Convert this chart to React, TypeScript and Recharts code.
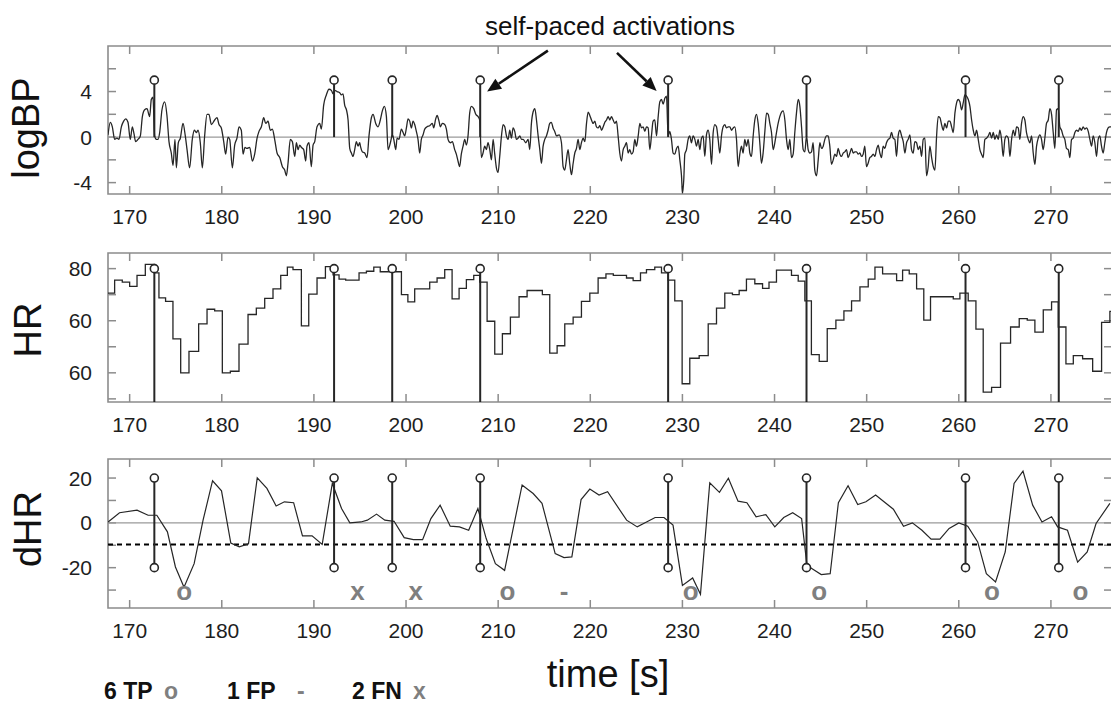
import React from 'react'
import { ComposedChart, Line, XAxis, YAxis, ReferenceLine, ReferenceDot, ReferenceArea, Scatter } from 'recharts'

const FONT = '"Liberation Sans", Arial, Helvetica, sans-serif'
const CHART_WIDTH = 1116
const AXIS_WIDTH = 108
const RIGHT_GAP = 4
const PLOT_WIDTH = CHART_WIDTH - AXIS_WIDTH - RIGHT_GAP
const TICK_PX = 8
const BOX = '#8c8c8c'
const INK = '#262626'

const TIME_DOMAIN: [number, number] = [167.65, 276.63]
const TIME_TICKS = [170, 180, 190, 200, 210, 220, 230, 240, 250, 260, 270]

// self-paced activations (s)
const ACTIVATIONS = [172.68, 192.19, 198.5, 208.05, 228.45, 243.47, 260.73, 270.85]

// logBP
const BP_TIME = [
  167.65, 167.9, 168.12, 168.37, 168.62, 168.84, 169.1, 169.35, 169.57, 169.82, 170.07, 170.29, 170.47, 170.65, 170.9,
  171.16, 171.38, 171.63, 171.88, 172.17, 172.35, 172.53, 172.71, 172.9, 173.08, 173.26, 173.51, 173.8, 174.05, 174.27,
  174.52, 174.71, 174.92, 175.07, 175.28, 175.5, 175.79, 176.04, 176.23, 176.51, 176.8, 177.02, 177.24, 177.42, 177.67,
  177.89, 178.14, 178.4, 178.61, 178.87, 179.23, 179.48, 179.7, 179.95, 180.21, 180.42, 180.68, 180.86, 181.15, 181.4,
  181.65, 181.87, 182.12, 182.31, 182.52, 182.74, 183.03, 183.32, 183.57, 183.83, 184.04, 184.3, 184.55, 184.77, 185.02,
  185.27, 185.49, 185.74, 186.0, 186.29, 186.58, 186.83, 187.01, 187.19, 187.44, 187.66, 187.92, 188.1, 188.28, 188.46,
  188.64, 188.89, 189.11, 189.25, 189.47, 189.72, 189.91, 190.09, 190.34, 190.63, 190.81, 191.06, 191.35, 191.64, 191.9,
  192.08, 192.26, 192.51, 192.8, 192.98, 193.16, 193.34, 193.53, 193.71, 193.89, 194.07, 194.25, 194.43, 194.61, 194.79,
  194.97, 195.05, 195.26, 195.51, 195.77, 195.98, 196.24, 196.42, 196.71, 196.96, 197.21, 197.43, 197.65, 197.87, 198.05,
  198.3, 198.52, 198.67, 198.88, 199.03, 199.24, 199.49, 199.68, 199.86, 200.04, 200.22, 200.4, 200.58, 200.76, 200.94,
  201.12, 201.3, 201.48, 201.66, 201.85, 202.03, 202.28, 202.57, 202.86, 203.0, 203.22, 203.37, 203.58, 203.73, 203.94,
  204.2, 204.38, 204.56, 204.81, 205.03, 205.28, 205.46, 205.64, 205.82, 206.0, 206.19, 206.37, 206.55, 206.73, 206.91,
  207.09, 207.35, 207.57, 207.82, 208.0, 208.18, 208.36, 208.54, 208.72, 208.9, 209.09, 209.27, 209.45, 209.63, 209.81,
  209.99, 210.17, 210.36, 210.54, 210.72, 210.9, 211.08, 211.26, 211.44, 211.62, 211.8, 211.98, 212.16, 212.35, 212.53,
  212.71, 213.0, 213.25, 213.43, 213.61, 213.79, 213.98, 214.16, 214.34, 214.52, 214.7, 214.88, 215.06, 215.24, 215.42,
  215.6, 215.78, 215.96, 216.14, 216.33, 216.62, 216.87, 217.05, 217.23, 217.41, 217.59, 217.78, 217.96, 218.14, 218.32,
  218.5, 218.68, 218.86, 219.04, 219.22, 219.41, 219.59, 219.77, 219.95, 220.13, 220.31, 220.49, 220.67, 220.85, 221.04,
  221.22, 221.4, 221.58, 221.76, 221.94, 222.12, 222.3, 222.48, 222.66, 222.84, 223.02, 223.2, 223.38, 223.57, 223.75,
  223.93, 224.11, 224.29, 224.47, 224.65, 224.83, 225.01, 225.2, 225.38, 225.56, 225.74, 225.92, 226.1, 226.28, 226.46,
  226.64, 226.82, 227.0, 227.19, 227.37, 227.55, 227.73, 227.91, 228.09, 228.27, 228.45, 228.63, 228.81, 228.99, 229.17,
  229.36, 229.54, 229.72, 229.9, 230.01, 230.15, 230.26, 230.44, 230.62, 230.8, 230.98, 231.16, 231.35, 231.53, 231.71,
  231.89, 232.07, 232.25, 232.43, 232.61, 232.79, 232.97, 233.16, 233.34, 233.52, 233.7, 233.88, 234.06, 234.24, 234.42,
  234.6, 234.78, 234.97, 235.15, 235.33, 235.51, 235.69, 235.87, 236.05, 236.23, 236.41, 236.59, 236.77, 236.95, 237.14,
  237.32, 237.5, 237.68, 237.86, 238.04, 238.22, 238.4, 238.58, 238.76, 238.95, 239.13, 239.31, 239.49, 239.67, 239.85,
  240.03, 240.21, 240.39, 240.57, 240.76, 240.94, 241.12, 241.3, 241.48, 241.66, 241.84, 242.02, 242.2, 242.38, 242.57,
  242.75, 242.93, 243.11, 243.29, 243.47, 243.65, 243.83, 244.01, 244.19, 244.37, 244.56, 244.74, 244.92, 245.1, 245.28,
  245.46, 245.64, 245.82, 246.0, 246.18, 246.37, 246.55, 246.73, 246.91, 247.09, 247.27, 247.45, 247.63, 247.81, 247.99,
  248.18, 248.36, 248.54, 248.72, 248.9, 249.08, 249.26, 249.44, 249.62, 249.8, 249.98, 250.16, 250.34, 250.52, 250.71,
  250.89, 251.07, 251.25, 251.43, 251.61, 251.79, 251.97, 252.15, 252.34, 252.52, 252.7, 252.88, 253.06, 253.24, 253.42,
  253.6, 253.79, 253.97, 254.15, 254.33, 254.51, 254.69, 254.87, 255.05, 255.23, 255.42, 255.6, 255.78, 255.96, 256.14,
  256.32, 256.5, 256.68, 256.86, 257.05, 257.23, 257.41, 257.59, 257.77, 257.95, 258.13, 258.31, 258.49, 258.67, 258.86,
  259.04, 259.22, 259.4, 259.58, 259.76, 259.94, 260.12, 260.3, 260.48, 260.66, 260.84, 261.03, 261.21, 261.39, 261.57,
  261.75, 261.93, 262.11, 262.29, 262.47, 262.65, 262.83, 263.01, 263.2, 263.38, 263.56, 263.74, 263.92, 264.1, 264.28,
  264.46, 264.64, 264.82, 265.0, 265.18, 265.37, 265.55, 265.73, 265.91, 266.09, 266.27, 266.45, 266.63, 266.81, 266.99,
  267.17, 267.35, 267.54, 267.72, 267.9, 268.08, 268.26, 268.44, 268.62, 268.8, 268.98, 269.16, 269.34, 269.52, 269.71,
  269.89, 270.07, 270.25, 270.43, 270.61, 270.79, 270.97, 271.15, 271.33, 271.51, 271.69, 271.88, 272.06, 272.24, 272.42,
  272.6, 272.78, 272.96, 273.14, 273.32, 273.5, 273.68, 273.87, 274.05, 274.23, 274.41, 274.59, 274.77, 274.95, 275.13,
  275.31, 275.49, 275.67, 275.85, 276.03, 276.21, 276.39, 276.6,
]
const BP_VALUE = [
  0.2, 1.3, 0.9, -0.2, -0.1, -0.2, 0.9, 1.4, 1.6, 1.3, -0.2, 0.9, 0.3, -0.4, -0.2,
  0.1, 1.8, 2.4, 2.5, 1.8, 3.3, 3.5, 0.1, -0.2, -0.2, 0.4, 2.4, 3.1, 1.9, -0.4,
  -1.4, -2.5, -0.2, -2.7, -0.5, -0.1, 1.2, 0.1, -1.1, -2.7, -0.2, 0.6, 0.4, 0.6, -0.5,
  -2.7, 0.1, 2.0, 2.0, 1.1, 1.5, 1.7, 1.1, 0.8, -0.4, -1.5, 0.0, -0.2, -2.7, -0.7,
  -0.1, 0.9, 0.6, -1.5, -0.9, -1.0, -0.9, -2.1, -1.5, -0.1, 0.5, 0.9, 1.7, 1.2, 1.4,
  0.6, 0.7, -0.2, -1.4, -1.8, -2.6, -2.9, -3.4, -2.3, -0.2, -0.4, -1.7, -0.5, -1.1, -0.7,
  -0.9, -1.1, -2.1, -0.8, -0.5, -2.6, -0.7, -0.4, 0.9, 1.2, 0.7, 2.8, 3.7, 4.2, 4.1,
  3.8, 4.1, 4.0, 3.9, 3.7, 3.8, 2.8, 2.4, 1.5, -1.0, -1.4, -1.7, -1.1, -0.4, -0.8,
  -0.5, -0.8, -1.3, -1.4, -1.8, 0.1, 1.7, 2.0, 1.2, 0.9, 1.5, 2.3, 2.7, 1.8, -1.1,
  -0.5, 0.2, -0.2, -1.1, -0.1, -0.2, 0.7, 0.4, 0.1, 0.8, 1.6, 1.4, 0.8, 1.4, 1.1,
  0.5, -0.2, -1.4, -0.2, 0.2, 0.7, 0.9, 1.0, 1.2, 0.8, 1.6, 1.9, 1.4, 0.9, 1.2,
  1.1, 0.7, -0.2, -0.5, -0.4, -1.1, -1.5, -2.1, -2.6, -1.5, -0.8, -0.2, -0.7, 0.1, 2.1,
  2.7, 2.5, 2.0, 1.8, 1.5, -1.8, -1.4, -0.8, -1.1, -0.5, -1.1, -2.0, -0.2, -1.5, -2.7,
  -3.1, -1.7, 0.1, 1.1, 0.9, 0.1, -0.2, 0.6, -0.1, 0.8, 0.5, -0.2, -0.1, 0.1, -0.2,
  -0.2, -0.5, -0.2, -1.1, 1.2, 2.2, 2.5, 1.5, 0.1, -1.1, -2.3, -0.8, -0.2, 0.1, 0.6,
  1.2, 1.3, 0.8, 0.5, 0.1, 0.2, -0.5, -2.6, -2.9, -2.0, -1.1, -2.4, -3.3, -2.3, -1.4,
  -1.0, -0.2, -1.1, -0.5, -0.1, -0.4, 1.2, 2.2, 1.9, 1.5, 1.2, 1.4, 0.9, 0.8, 1.0,
  0.6, 0.9, 1.3, 1.5, 1.8, 1.5, 1.8, 1.5, 1.2, 1.4, 0.1, -1.4, -2.1, -1.1, -0.8,
  -0.5, -1.4, -1.1, -1.5, -1.3, -0.2, -0.8, 0.1, 1.2, 0.8, 0.9, 0.5, 0.9, 0.8, -1.1,
  0.1, 1.4, 1.5, 0.1, 1.8, 3.1, 3.3, 2.9, 3.4, 3.6, 0.1, 0.5, -0.2, -1.4, -1.5,
  -1.0, -0.8, -2.0, -3.4, -4.9, -3.7, -1.5, -1.1, -0.2, 0.1, -0.5, 0.1, -0.2, -0.8, -0.2,
  -1.1, -0.1, 0.1, -1.7, 0.2, 0.6, -0.2, -2.4, 0.4, 1.1, 0.9, -0.2, -1.4, 0.1, 0.9,
  1.1, 0.8, 0.9, 0.9, 0.6, 0.8, 0.9, -0.2, -2.6, -1.5, -0.8, -1.4, -0.2, -0.8, -0.2,
  -1.4, -1.7, 0.1, 1.5, 2.0, 1.2, -0.5, -2.3, -1.4, 0.5, 2.1, 2.0, 1.2, 0.4, -1.1,
  -0.5, 0.4, 1.2, 1.8, 2.2, 2.3, 1.5, -0.2, -1.1, -0.2, -1.8, -1.5, 0.4, 2.1, 3.3,
  2.7, 0.9, -1.1, -1.3, 0.1, -1.1, -1.4, -1.3, -0.5, -2.9, -3.4, -2.0, -0.5, -1.0, -0.8,
  -0.2, 0.1, 0.1, -0.8, -2.4, -2.0, -1.5, -1.7, -1.0, -1.5, -1.7, -1.4, -1.3, -1.1, -1.8,
  -1.4, -1.0, -1.4, -1.3, -1.3, -1.5, -1.4, -1.7, -1.5, -0.8, -2.6, -2.3, -1.8, -1.7, -1.5,
  -1.7, -1.1, -0.7, -1.4, -1.8, -0.8, -1.0, -0.5, -0.2, -0.1, 0.4, -0.1, -0.2, -1.7, 0.1,
  0.6, 0.1, -0.4, -1.4, -0.5, -0.2, 0.2, -1.1, -1.4, -0.4, -0.5, -1.1, -0.8, -1.7, -0.2,
  -0.1, -3.4, -2.6, -0.8, -1.8, -2.6, -2.9, 0.1, 1.8, 1.7, 1.1, 0.6, 1.2, 0.8, 1.4,
  1.4, 0.9, 0.4, 2.1, 3.0, 3.3, 3.1, 2.4, 3.0, 3.7, 3.6, 3.3, 2.7, 1.5, 0.6,
  0.1, 0.6, -0.2, -1.1, -1.5, -1.8, -0.2, -0.1, 0.1, 0.4, -0.1, 0.4, -0.2, 0.2, -0.2,
  0.6, -0.2, -1.7, -0.2, 0.1, -0.1, -1.7, -0.2, 0.6, 0.1, 0.9, 0.8, -0.2, 1.2, 1.8,
  1.5, 0.4, -0.2, -0.5, 0.1, -1.4, -2.4, -0.8, -0.1, 0.2, -0.2, -1.1, -0.1, 1.2, 1.5,
  2.5, 2.0, 0.4, -1.0, 2.4, 2.5, 0.9, 0.6, 0.1, -0.2, -1.0, -1.1, -1.8, -0.2, -0.1,
  0.4, 0.6, 0.5, 0.8, 0.6, 0.9, 0.7, 0.8, 0.5, -0.2, -0.8, 0.1, -0.5, -1.7, -0.2,
  0.1, -0.8, -1.4, -0.5, 0.4, 0.8, 0.9, 0.9,
]

// HR (step per beat)
const HR_TIME = [
  167.65, 168.37, 169.2, 170.0, 170.8, 171.7, 172.7, 173.18, 173.9, 174.7, 175.54, 176.44, 177.49, 178.4, 179.23,
  180.06, 180.93, 181.87, 182.85, 183.75, 184.66, 185.56, 186.4, 187.12, 187.73, 188.64, 189.44, 190.34, 191.25, 192.08,
  192.73, 193.45, 194.9, 195.7, 196.5, 197.2, 199.5, 200.2, 200.94, 202.57, 203.37, 204.2, 205.0, 205.76, 206.55,
  207.35, 208.0, 208.8, 209.63, 210.46, 211.33, 212.27, 213.14, 214.8, 215.6, 216.4, 217.23, 218.14, 219.04, 219.95,
  220.85, 221.7, 222.5, 223.93, 224.65, 225.45, 226.1, 227.0, 227.73, 228.45, 229.17, 229.97, 230.8, 231.82, 232.8,
  233.7, 234.6, 235.43, 236.16, 236.95, 237.86, 238.7, 239.4, 240.21, 241.84, 242.57, 243.29, 244.0, 244.85, 245.72,
  246.66, 247.53, 248.36, 249.27, 250.17, 250.9, 251.73, 253.25, 253.9, 254.62, 255.42, 256.2, 256.93, 259.4, 260.12,
  261.02, 261.86, 262.65, 263.56, 264.53, 265.62, 266.56, 267.43, 268.26, 269.17, 270.07, 270.8, 271.63, 272.43, 273.44,
  274.53, 275.5, 276.4, 276.63,
]
const HR_VALUE = [
  75.3, 77.8, 77.4, 76.6, 78.7, 80.8, 79.2, 74.4, 73.7, 66.5, 60.0, 64.1, 69.4, 72.2, 71.9,
  60.0, 60.3, 65.5, 71.2, 72.4, 74.3, 76.1, 78.7, 80.3, 79.8, 69.0, 75.1, 78.2, 80.4, 78.8,
  78.0, 77.8, 79.2, 79.5, 80.3, 79.4, 75.0, 73.6, 76.1, 77.4, 78.2, 79.8, 74.2, 76.2, 77.9,
  78.7, 77.4, 69.9, 63.6, 67.5, 70.7, 74.6, 75.8, 75.0, 63.8, 65.2, 69.4, 70.7, 73.7, 75.3,
  78.2, 79.0, 78.7, 78.2, 77.7, 79.2, 79.8, 80.3, 79.2, 77.8, 73.8, 57.9, 62.8, 63.3, 69.4,
  72.4, 75.3, 75.0, 75.8, 78.0, 77.1, 76.2, 77.4, 79.7, 78.7, 77.6, 73.8, 63.5, 62.2, 68.5,
  70.1, 71.9, 73.8, 76.5, 78.0, 80.3, 79.0, 77.7, 79.7, 79.0, 76.1, 70.1, 74.6, 74.2, 75.3,
  73.8, 68.4, 56.3, 57.2, 65.7, 68.8, 70.4, 70.1, 67.8, 72.1, 73.6, 68.8, 61.7, 63.3, 62.7,
  60.3, 69.7, 71.8, 71.8,
]
const HR_TICKS = [55, 60, 65, 70, 75, 80]
const HR_LABEL_TICKS = [60, 70, 80]
const HR_LABELS = ['60', '60', '80']

// dHR
const DHR_TIME = [
  167.66, 168.9, 170.8, 172.0, 172.95, 174.1, 174.97, 175.9, 177.0, 177.97, 179.0, 179.97, 180.98, 181.9, 182.9,
  183.85, 184.9, 185.9, 186.8, 187.8, 188.76, 189.8, 190.9, 192.0, 193.0, 193.9, 195.1, 195.8, 196.8, 197.7,
  198.7, 199.8, 200.8, 201.8, 202.7, 203.7, 204.8, 205.8, 206.8, 207.8, 208.7, 209.7, 210.7, 212.6, 213.8,
  214.76, 216.19, 217.15, 218.0, 219.0, 219.95, 220.95, 221.88, 223.94, 225.1, 227.04, 228.0, 228.98, 230.0, 231.11,
  231.96, 232.97, 234.02, 234.99, 236.04, 237.0, 238.0, 239.06, 240.03, 241.0, 241.97, 242.94, 243.52, 245.07, 246.04,
  246.93, 247.98, 249.03, 249.92, 250.97, 252.9, 254.0, 254.96, 256.0, 257.0, 257.95, 258.95, 260.0, 260.97, 262.05,
  262.99, 263.99, 265.04, 266.0, 266.97, 268.02, 269.03, 270.07, 270.73, 271.8, 272.9, 273.94, 274.9, 276.4,
]
const DHR_VALUE = [
  0.4, 4.5, 5.7, 3.4, 3.4, -4.0, -19.7, -28.7, -18.2, 1.2, 18.8, 14.3, -9.0, -10.7, -9.3,
  20.1, 15.4, 7.5, 9.4, 9.0, -5.8, -5.8, -9.6, 17.6, 6.4, 0.0, 0.4, 1.2, 3.9, 1.2,
  0.7, -6.6, -7.5, -7.5, 1.9, 7.9, -1.5, -1.8, -3.3, 6.4, -7.0, -18.2, -21.2, 16.9, 13.1,
  8.7, -13.7, -15.5, -15.2, 10.4, 15.1, 12.4, 13.9, 1.2, -1.8, 2.4, 2.4, -1.0, -27.9, -24.6,
  -31.9, 17.9, 13.6, 19.9, 9.7, 9.0, 2.7, 3.7, -1.8, 2.4, 4.5, 1.9, -19.0, -23.1, -22.7,
  9.0, 16.6, 8.2, 9.4, 12.4, 6.1, -1.5, 0.0, -3.3, -7.3, -7.3, -2.5, 0.0, -1.5, -8.5,
  -22.7, -26.4, -13.0, 17.6, 23.1, 7.9, 0.4, 2.7, -1.8, -3.3, -17.5, -13.0, -0.3, 8.7,
]
const DHR_THRESHOLD = -9.7

// detection outcome per activation
const OUTCOME_TIME = [175.92, 194.73, 201.06, 211.02, 217.15, 230.9, 244.85, 263.6, 273.2]
const OUTCOME_MARK = ['o', 'x', 'x', 'o', '-', 'o', 'o', 'o', 'o']
const OUTCOME_LEVEL = -31.6

const toPoints = (ts: number[], vs: number[]) => ts.map((t, i) => ({ t, v: vs[i] }))
const bpData = toPoints(BP_TIME, BP_VALUE)
const hrData = toPoints(HR_TIME, HR_VALUE)
const dhrData = toPoints(DHR_TIME, DHR_VALUE)
const outcomeData = OUTCOME_TIME.map((t, i) => ({ t, v: OUTCOME_LEVEL, mark: OUTCOME_MARK[i] }))

const tickStyle = { fontSize: 21, fill: '#1e1e1e', fontFamily: FONT }

const Arrow = (props: any) => {
  const { x1, y1, x2, y2 } = props
  const ang = Math.atan2(y2 - y1, x2 - x1)
  const len = 14
  const half = 6
  const bx = x2 - len * Math.cos(ang)
  const by = y2 - len * Math.sin(ang)
  const px = -Math.sin(ang) * half
  const py = Math.cos(ang) * half
  return (
    <g>
      <line x1={x1} y1={y1} x2={bx} y2={by} stroke="#111" strokeWidth={2.6} />
      <polygon points={`${x2},${y2} ${bx + px},${by + py} ${bx - px},${by - py}`} fill="#111" />
    </g>
  )
}

const OutcomeMark = (props: any) => (
  <text x={props.cx} y={props.cy + 6.5} textAnchor="middle" fontSize={26} fontWeight="bold" fill="#7f7f7f" fontFamily={FONT}>
    {props.payload.mark}
  </text>
)

interface PanelProps {
  top: number
  plotHeight: number
  yDomain: [number, number]
  yMarks: number[]
  yLabelTicks: number[]
  yLabels: string[]
  children?: React.ReactNode
}

const Panel: React.FC<PanelProps> = ({ top, plotHeight, yDomain, yMarks, yLabelTicks, yLabels, children }) => {
  const xLen = ((yDomain[1] - yDomain[0]) * TICK_PX) / plotHeight
  const yLen = ((TIME_DOMAIN[1] - TIME_DOMAIN[0]) * TICK_PX) / PLOT_WIDTH
  const [t0, t1] = TIME_DOMAIN
  const [v0, v1] = yDomain
  return (
    <div style={{ position: 'absolute', left: 0, top: 0 }}>
      <ComposedChart width={CHART_WIDTH} height={top + plotHeight + 40} margin={{ top, right: RIGHT_GAP, bottom: 0, left: 0 }}>
        <XAxis
          type="number"
          dataKey="t"
          domain={TIME_DOMAIN}
          ticks={TIME_TICKS}
          allowDataOverflow
          axisLine={false}
          tickLine={false}
          tickSize={0}
          tickMargin={15}
          height={40}
          tick={tickStyle}
        />
        <YAxis
          type="number"
          domain={yDomain}
          ticks={yLabelTicks}
          tickFormatter={(v: number) => yLabels[yLabelTicks.indexOf(v)] ?? ''}
          allowDataOverflow
          axisLine={false}
          tickLine={false}
          tickSize={0}
          tickMargin={16}
          width={AXIS_WIDTH}
          tick={tickStyle}
        />
        <ReferenceArea x1={t0} x2={t1} y1={v0} y2={v1} fill="none" fillOpacity={0} stroke={BOX} strokeWidth={1.6} />
        {TIME_TICKS.map((t) => (
          <ReferenceLine key={`xb${t}`} segment={[{ x: t, y: v0 }, { x: t, y: v0 + xLen }]} stroke={BOX} strokeWidth={1.5} />
        ))}
        {TIME_TICKS.map((t) => (
          <ReferenceLine key={`xt${t}`} segment={[{ x: t, y: v1 }, { x: t, y: v1 - xLen }]} stroke={BOX} strokeWidth={1.5} />
        ))}
        {yMarks.map((v) => (
          <ReferenceLine key={`yl${v}`} segment={[{ x: t0, y: v }, { x: t0 + yLen, y: v }]} stroke={BOX} strokeWidth={1.5} />
        ))}
        {yMarks.map((v) => (
          <ReferenceLine key={`yr${v}`} segment={[{ x: t1, y: v }, { x: t1 - yLen, y: v }]} stroke={BOX} strokeWidth={1.5} />
        ))}
        {children}
      </ComposedChart>
    </div>
  )
}

export default function App() {
  return (
    <div style={{ position: 'absolute', left: 0, top: 0, width: 1111, height: 706, overflow: 'hidden', background: '#fff', fontFamily: FONT }}>
      <Panel top={46} plotHeight={148} yDomain={[-5, 8]} yMarks={[-4, -2, 0, 2, 4, 6]} yLabelTicks={[-4, 0, 4]} yLabels={['-4', '0', '4']}>
        <ReferenceLine y={0} stroke="#9a9a9a" strokeWidth={1.2} />
        <Line data={bpData} dataKey="v" type="monotone" stroke={INK} strokeWidth={1.3} dot={false} isAnimationActive={false} />
        {ACTIVATIONS.map((a) => (
          <ReferenceLine key={`bs${a}`} segment={[{ x: a, y: 0 }, { x: a, y: 5 }]} stroke={INK} strokeWidth={2} />
        ))}
        {ACTIVATIONS.map((a) => (
          <ReferenceDot key={`bd${a}`} x={a} y={5} r={4} fill="#fff" stroke={INK} strokeWidth={1.6} />
        ))}
        <ReferenceLine segment={[{ x: 215.4, y: 7.6 }, { x: 208.8, y: 4.0 }]} shape={Arrow} ifOverflow="visible" />
        <ReferenceLine segment={[{ x: 222.9, y: 7.4 }, { x: 227.2, y: 4.05 }]} shape={Arrow} ifOverflow="visible" />
      </Panel>

      <Panel top={253} plotHeight={149} yDomain={[54.4, 83]} yMarks={HR_TICKS} yLabelTicks={HR_LABEL_TICKS} yLabels={HR_LABELS}>
        <Line data={hrData} dataKey="v" type="stepAfter" stroke={INK} strokeWidth={1.3} dot={false} isAnimationActive={false} />
        {ACTIVATIONS.map((a) => (
          <ReferenceLine key={`hs${a}`} segment={[{ x: a, y: 54.4 }, { x: a, y: 80 }]} stroke={INK} strokeWidth={2} />
        ))}
        {ACTIVATIONS.map((a) => (
          <ReferenceDot key={`hd${a}`} x={a} y={80} r={4} fill="#fff" stroke={INK} strokeWidth={1.6} />
        ))}
      </Panel>

      <Panel top={459} plotHeight={149} yDomain={[-38, 28.5]} yMarks={[-30, -20, -10, 0, 10, 20]} yLabelTicks={[-20, 0, 20]} yLabels={['-20', '0', '20']}>
        <ReferenceLine y={0} stroke="#9a9a9a" strokeWidth={1.2} />
        <ReferenceLine y={DHR_THRESHOLD} stroke="#000" strokeWidth={2} strokeDasharray="5 4" />
        <Line data={dhrData} dataKey="v" type="linear" stroke={INK} strokeWidth={1.2} dot={false} isAnimationActive={false} />
        {ACTIVATIONS.map((a) => (
          <ReferenceLine key={`ds${a}`} segment={[{ x: a, y: -20 }, { x: a, y: 20 }]} stroke={INK} strokeWidth={2} />
        ))}
        {ACTIVATIONS.map((a) => (
          <ReferenceDot key={`dt${a}`} x={a} y={20} r={4} fill="#fff" stroke={INK} strokeWidth={1.6} />
        ))}
        {ACTIVATIONS.map((a) => (
          <ReferenceDot key={`db${a}`} x={a} y={-20} r={4} fill="#fff" stroke={INK} strokeWidth={1.6} />
        ))}
        <Scatter data={outcomeData} dataKey="v" shape={OutcomeMark} isAnimationActive={false} />
      </Panel>

      <svg width={1111} height={706} style={{ position: 'absolute', left: 0, top: 0, pointerEvents: 'none' }} fontFamily={FONT}>
        <text x={610} y={35} textAnchor="middle" fontSize={26} fill="#111">self-paced activations</text>
        <text x={39} y={128} textAnchor="middle" fontSize={38} fill="#111" transform="rotate(-90 39 128)">logBP</text>
        <text x={41} y={330} textAnchor="middle" fontSize={38} fill="#111" transform="rotate(-90 41 330)">HR</text>
        <text x={41} y={529} textAnchor="middle" fontSize={38} fill="#111" transform="rotate(-90 41 529)">dHR</text>
        <text x={608} y={687} textAnchor="middle" fontSize={38} fill="#111">time [s]</text>
        <text y={699} fontSize={23} fontWeight="bold">
          <tspan x={104} fill="#111">6 TP</tspan>
          <tspan x={164} fill="#7f7f7f">o</tspan>
          <tspan x={227} fill="#111">1 FP</tspan>
          <tspan x={297} fill="#7f7f7f">-</tspan>
          <tspan x={352} fill="#111">2 FN</tspan>
          <tspan x={413} fill="#7f7f7f">x</tspan>
        </text>
      </svg>
    </div>
  )
}
